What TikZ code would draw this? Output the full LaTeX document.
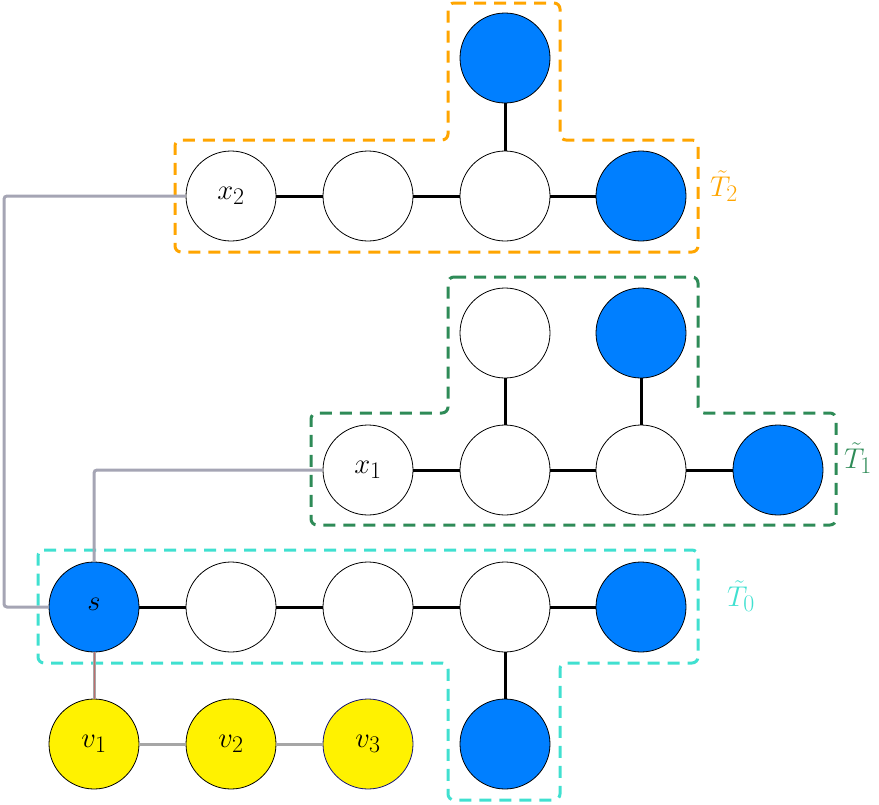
\documentclass[tikz,border=0pt]{standalone}
\usepackage{graphicx}
\definecolor{myblue}{RGB}{0,127,255}
\definecolor{orng}{RGB}{255,165,0}
\definecolor{sgreen}{RGB}{46,139,87}
\definecolor{turq}{RGB}{64,224,208}
\definecolor{linkgray}{RGB}{165,165,180}
\definecolor{redline}{RGB}{190,110,110}
\definecolor{navyb}{RGB}{20,20,120}
\newcommand{\biglbl}[1]{\scalebox{1.15}{#1}}
\begin{document}
\begin{tikzpicture}[x=1pt,y=-1pt,
  vtx/.style={circle,draw=black,line width=0.8pt,minimum size=90pt,inner sep=0pt,font=\fontsize{24.88}{28}\selectfont},
  wv/.style={vtx,fill=white},
  bv/.style={vtx,fill=myblue},
  yv/.style={vtx,fill=yellow},
  tedge/.style={line width=3pt,black},
  gedge/.style={line width=3pt,gray!70},
  link/.style={line width=3pt,linkgray,rounded corners=3pt},
  region/.style={line width=3pt,dash pattern=on 12pt off 8pt,rounded corners=6pt},
  lab/.style={font=\fontsize{24.88}{28}\selectfont}]
\useasboundingbox (0,0) rectangle (879,804);
% regions
\draw[region,orng] (448,3) -- (560,3) -- (560,140) -- (698,140) -- (698,252) -- (175,252) -- (175,140) -- (448,140) -- cycle;
\draw[region,sgreen] (448,277) -- (698,277) -- (698,413) -- (836,413) -- (836,525) -- (311,525) -- (311,413) -- (448,413) -- cycle;
\draw[region,turq] (38,550) -- (698,550) -- (698,663) -- (560,663) -- (560,800) -- (448,800) -- (448,663) -- (38,663) -- cycle;
% T2 nodes
\node[bv] (t2a) at (505,58) {};
\node[wv] (x2) at (231,196) {\raisebox{3pt}{\biglbl{$x_2$}}};
\node[wv] (t2b) at (368,196) {};
\node[wv] (t2c) at (505,196) {};
\node[bv] (t2d) at (641,196) {};
% T1 nodes
\node[wv] (t1a) at (505,333) {};
\node[bv] (t1b) at (641,333) {};
\node[wv] (x1) at (368,470) {\raisebox{3pt}{\biglbl{$x_1$}}};
\node[wv] (t1c) at (505,470) {};
\node[wv] (t1d) at (641,470) {};
\node[bv] (t1e) at (778,470) {};
% T0 nodes
\node[bv] (s) at (94,607) {\raisebox{5pt}{\biglbl{$s$}}};
\node[wv] (t0a) at (231,607) {};
\node[wv] (t0b) at (368,607) {};
\node[wv] (t0c) at (505,607) {};
\node[bv] (t0d) at (641,607) {};
\node[bv] (t0e) at (505,744) {};
% path nodes
\node[yv] (v1) at (94,744) {\raisebox{3pt}{\biglbl{$v_1$}}};
\node[yv] (v2) at (231,744) {\raisebox{3pt}{\biglbl{$v_2$}}};
\node[yv,draw=navyb] (v3) at (368,744) {\raisebox{3pt}{\biglbl{$v_3$}}};
% tree edges
\draw[tedge] (x2) -- (t2b) -- (t2c) -- (t2d);
\draw[tedge] (t2a) -- (t2c);
\draw[tedge] (x1) -- (t1c) -- (t1d) -- (t1e);
\draw[tedge] (t1a) -- (t1c);
\draw[tedge] (t1b) -- (t1d);
\draw[tedge] (s) -- (t0a) -- (t0b) -- (t0c) -- (t0d);
\draw[tedge] (t0c) -- (t0e);
% path edges
\draw[gedge] (v1) -- (v2);
\draw[gedge] (v2) -- (v3);
\draw[gedge] (s) -- (v1);
\draw[line width=0.6pt,redline] (s) -- (v1);
% links
\coordinate (c2a) at (4,196);
\coordinate (c2b) at (4,607);
\draw[link] (x2.west) -- (c2a) -- (c2b) -- (s.west);
\coordinate (c1) at (94,470);
\draw[link] (x1.west) -- (c1) -- (s.north);
% labels
\node[lab,text=orng] (L2) at (724,186) {\biglbl{$\tilde{T}_2$}};
\node[lab,text=sgreen] (L1) at (858,458) {\biglbl{$\tilde{T}_1$}};
\node[lab,text=turq] (L0) at (741,596) {\biglbl{$\tilde{T}_0$}};
\end{tikzpicture}
\end{document}
